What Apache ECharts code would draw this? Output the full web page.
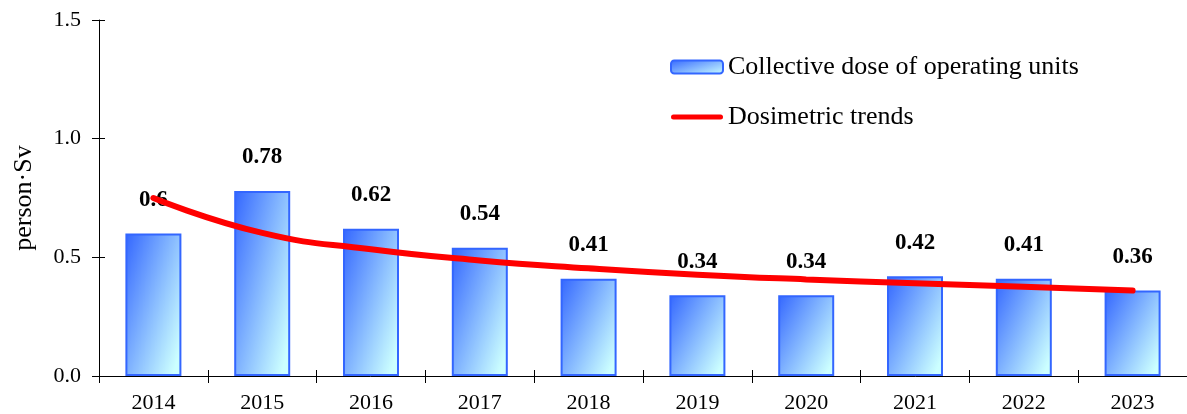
<!DOCTYPE html>
<html>
<head>
<meta charset="utf-8">
<script src="https://cdn.jsdelivr.net/npm/echarts@6/dist/echarts.min.js"></script>
<style>
html,body{margin:0;padding:0;background:#fff;}
#chart{width:1187px;height:414px;}
</style>
</head>
<body>
<div id="chart"></div>
<script>
const categories = ['2014','2015','2016','2017','2018','2019','2020','2021','2022','2023'];
const doseValues = [0.6, 0.78, 0.62, 0.54, 0.41, 0.34, 0.34, 0.42, 0.41, 0.36];
const trendValues = [0.75, 0.603, 0.534, 0.487, 0.454, 0.427, 0.407, 0.391, 0.376, 0.36];
const yTicks = ['0.0', '0.5', '1.0', '1.5'];
const barName = 'Collective dose of operating units';
const lineName = 'Dosimetric trends';

const FONT = "'Liberation Serif', 'Times New Roman', serif";
const BAR_W = 56;
const PLOT_H = 414 - 20 - 38;
const Y_MAX = 1.5;
// gradient so that normalized t = A*u + B*v for a box of width w, height h
const A = 0.62, B = 0.48;
function makeGrad(w, h) {
  const r = h / w;
  const x2 = A / (A * A + B * B / (r * r));
  const y2 = B / (B * B + A * A * r * r);
  return new echarts.graphic.LinearGradient(0, 0, x2, y2, [
    {offset: 0, color: '#3366ff'},
    {offset: 1, color: '#ccffff'}
  ]);
}
const barData = doseValues.map(v => ({
  value: v,
  itemStyle: {color: makeGrad(BAR_W, Math.max(v / Y_MAX * PLOT_H, 1))}
}));

const chart = echarts.init(document.getElementById('chart'));
chart.setOption({
  backgroundColor: '#fff',
  animation: false,
  grid: {left: 99, right: 0, top: 20, bottom: 38, containLabel: false},
  legend: {
    orient: 'vertical', left: 665, top: 49, itemGap: 24,
    itemWidth: 52, itemHeight: 13,
    textStyle: {fontFamily: FONT, fontSize: 26, color: '#000'},
    data: [
      {name: barName, itemStyle: {color: makeGrad(52, 13), borderColor: '#3366ff', borderWidth: 2}},
      {name: lineName, icon: 'path://M2.5,0 L49.5,0 A2.5,2.5 0 0 1 49.5,5 L2.5,5 A2.5,2.5 0 0 1 2.5,0 Z',
        itemStyle: {color: '#ff0000', borderWidth: 0}}
    ]
  },
  xAxis: [{
    type: 'category', data: categories, position: 'bottom',
    axisLine: {lineStyle: {color: '#000', width: 1}},
    axisTick: {show: true, length: 7, inside: false, lineStyle: {color: '#000'}},
    axisLabel: {fontFamily: FONT, fontSize: 22, color: '#000', margin: 16}
  }, {
    type: 'category', data: categories, position: 'bottom',
    axisLine: {show: false},
    axisTick: {show: true, length: 6, inside: true, lineStyle: {color: '#000'}},
    axisLabel: {show: false}
  }],
  yAxis: [{
    type: 'value', min: 0, max: Y_MAX, interval: 0.5, position: 'left',
    name: 'person·Sv', nameLocation: 'middle', nameGap: 62,
    nameTextStyle: {fontFamily: FONT, fontSize: 26, color: '#000'},
    axisLine: {show: true, lineStyle: {color: '#000', width: 1}},
    axisTick: {show: true, length: 7, lineStyle: {color: '#000'}},
    splitLine: {show: false},
    axisLabel: {fontFamily: FONT, fontSize: 22, color: '#000', margin: 18,
      formatter: (v) => yTicks[Math.round(v / 0.5)]}
  }, {
    type: 'value', min: 0, max: Y_MAX, interval: 0.5, position: 'left',
    axisLine: {show: false},
    axisTick: {show: true, inside: true, length: 6, lineStyle: {color: '#000'}},
    splitLine: {show: false},
    axisLabel: {show: false}
  }],
  series: [{
    name: barName, type: 'bar', data: barData, barWidth: BAR_W,
    itemStyle: {color: '#3366ff', borderColor: '#3366ff', borderWidth: 2},
    label: {show: true, position: 'top', distance: 22,
      fontFamily: FONT, fontSize: 23, fontWeight: 'bold', color: '#000'},
    z: 2
  }, {
    name: lineName, type: 'line', data: trendValues, smooth: 0.5,
    symbol: 'none', lineStyle: {color: '#ff0000', width: 6, cap: 'round'},
    itemStyle: {color: '#ff0000'},
    z: 3
  }]
});
</script>
</body>
</html>
